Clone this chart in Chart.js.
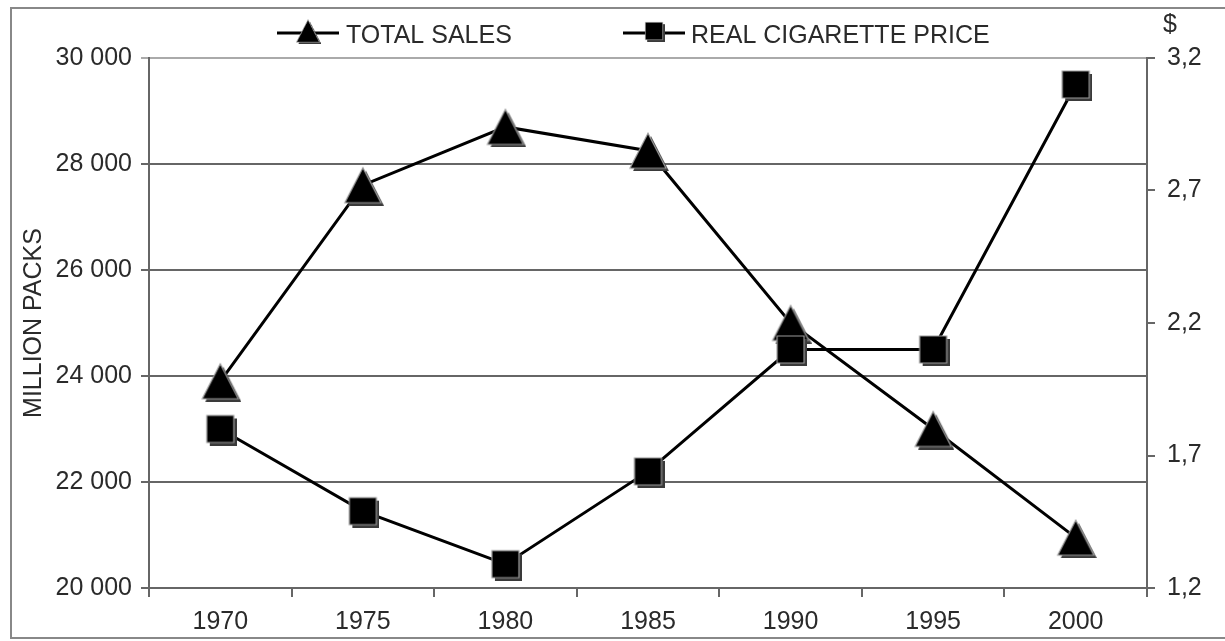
<!DOCTYPE html>
<html>
<head>
<meta charset="utf-8">
<style>
  html, body { margin: 0; padding: 0; background: #fff; }
  canvas { display: block; }
</style>
<script src="https://cdn.jsdelivr.net/npm/chart.js@4/dist/chart.umd.min.js"></script>
</head>
<body>
<canvas id="chart" width="1225" height="641"></canvas>
<script>
const years = ['1970', '1975', '1980', '1985', '1990', '1995', '2000']
const totalSales = [23900, 27600, 28700, 28250, 25000, 23000, 20950]
const realPrice = [1.80, 1.49, 1.29, 1.64, 2.10, 2.10, 3.10]
const salesTicks = [20000, 22000, 24000, 26000, 28000, 30000]
const priceTicks = [1.2, 1.7, 2.2, 2.7, 3.2]

const FONT = '"Liberation Sans", Arial, sans-serif'
const TEXT = '#2a2a2a'
const AXIS = '#666'

// marker image: black body, thin light rim, dark drop shadow
function makeMarker(shape, w, h) {
    const off = 3
    const c = document.createElement('canvas')
    c.width = w + off * 2
    c.height = h + off * 2
    const g = c.getContext('2d')
    const path = (d) => {
        g.beginPath()
        if (shape === 'triangle') {
            g.moveTo(d + w / 2, d)
            g.lineTo(d + w, d + h)
            g.lineTo(d, d + h)
            g.closePath()
        } else {
            g.rect(d, d, w, h)
        }
    }
    path(off * 2)
    g.fillStyle = '#3a3a3a'
    g.fill()
    path(off)
    g.fillStyle = '#000'
    g.fill()
    g.lineWidth = 1.2
    g.strokeStyle = '#9a9a9a'
    g.stroke()
    return c
}

const triangleImg = makeMarker('triangle', 36, 35)
const squareImg = makeMarker('rect', 27, 27)

// legend with line-marker-line symbols, plus the "$" unit over the right axis
const decorations = {
    id: 'decorations',
    afterDraw(chart) {
        const ctx = chart.ctx
        ctx.save()
        // outer frame (no right edge in the original)
        ctx.strokeStyle = '#888'
        ctx.lineWidth = 2
        ctx.beginPath()
        ctx.moveTo(1225, 8)
        ctx.lineTo(11, 8)
        ctx.lineTo(11, 638)
        ctx.lineTo(1225, 638)
        ctx.stroke()

        const items = [
            { x: 277, img: triangleImg, label: chart.data.datasets[0].label, tx: 346 },
            { x: 623, img: squareImg, label: chart.data.datasets[1].label, tx: 691 }
        ]
        items.forEach(it => {
            ctx.strokeStyle = '#000'
            ctx.lineWidth = 3
            ctx.beginPath()
            ctx.moveTo(it.x, 33)
            ctx.lineTo(it.x + 62, 33)
            ctx.stroke()
            const s = 0.64
            const w = it.img.width * s, h = it.img.height * s
            ctx.drawImage(it.img, it.x + 31 - w / 2, 31 - h / 2, w, h)
            ctx.fillStyle = TEXT
            ctx.font = '25px ' + FONT
            ctx.textBaseline = 'middle'
            ctx.textAlign = 'left'
            ctx.fillText(it.label, it.tx, 36)
        })

        const right = chart.scales.price
        ctx.fillStyle = TEXT
        ctx.font = '25px ' + FONT
        ctx.textAlign = 'center'
        ctx.textBaseline = 'middle'
        ctx.fillText('$', right.left + 23, chart.chartArea.top - 33)
        ctx.restore()
    }
}

new Chart(document.getElementById('chart'), {
    type: 'line',
    data: {
        labels: years,
        datasets: [
            {
                label: 'TOTAL SALES',
                data: totalSales,
                yAxisID: 'sales',
                borderColor: '#000',
                borderWidth: 3,
                pointStyle: triangleImg,
                pointRadius: 18,
                tension: 0,
                order: 2
            },
            {
                label: 'REAL CIGARETTE PRICE',
                data: realPrice,
                yAxisID: 'price',
                borderColor: '#000',
                borderWidth: 3,
                pointStyle: squareImg,
                pointRadius: 15,
                tension: 0,
                order: 1
            }
        ]
    },
    options: {
        responsive: false,
        animation: false,
        layout: { padding: { top: 58, left: 0, right: 0, bottom: 0 } },
        plugins: {
            legend: { display: false },
            tooltip: { enabled: false }
        },
        scales: {
            x: {
                offset: true,
                grid: { offset: true, drawOnChartArea: false, drawTicks: true, tickLength: 9, color: AXIS, lineWidth: 2 },
                border: { display: true, color: AXIS, width: 2 },
                ticks: { color: TEXT, font: { family: FONT, size: 25 }, padding: 10, maxRotation: 0 },
                afterFit: (scale) => { scale.height = 53 }
            },
            sales: {
                position: 'left',
                min: 20000,
                max: 30000,
                afterBuildTicks: (scale) => { scale.ticks = salesTicks.map(v => ({ value: v })) },
                grid: {
                    color: (c) => (c.tick && c.tick.value === 30000) ? '#aaa' : AXIS,
                    lineWidth: 2,
                    tickLength: 8
                },
                border: { display: true, color: AXIS, width: 2 },
                ticks: {
                    color: TEXT,
                    font: { family: FONT, size: 25 },
                    padding: 9,
                    callback: (v) => String(v).replace(/\B(?=(\d{3})+(?!\d))/g, ' ')
                },
                title: {
                    display: true,
                    text: 'MILLION PACKS',
                    color: TEXT,
                    font: { family: FONT, size: 25 },
                    padding: { top: 19, bottom: 0 }
                },
                afterFit: (scale) => { scale.width = 149 }
            },
            price: {
                position: 'right',
                min: 1.2,
                max: 3.2,
                afterBuildTicks: (scale) => { scale.ticks = priceTicks.map(v => ({ value: v })) },
                grid: { drawOnChartArea: false, color: AXIS, lineWidth: 2, tickLength: 8 },
                border: { display: true, color: AXIS, width: 2 },
                ticks: {
                    color: TEXT,
                    font: { family: FONT, size: 25 },
                    padding: 12,
                    callback: (v) => v.toFixed(1).replace('.', ',')
                },
                afterFit: (scale) => { scale.width = 78 }
            }
        }
    },
    plugins: [decorations]
})
</script>
</body>
</html>
